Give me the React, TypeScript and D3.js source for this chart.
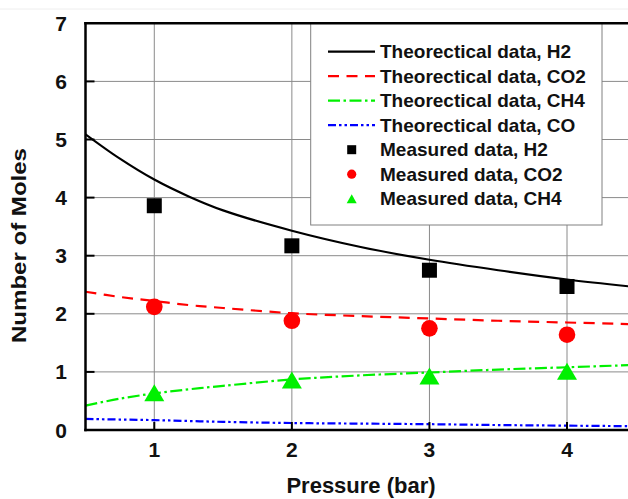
import React from "react";
import * as d3 from "d3";

const theoX = [0.5, 0.75, 1, 1.25, 1.5, 2, 2.5, 3, 3.5, 4, 4.5];
const theoH2 = [5.09, 4.67, 4.31, 4.02, 3.78, 3.43, 3.15, 2.93, 2.75, 2.59, 2.46];
const theoCO2 = [2.38, 2.29, 2.22, 2.15, 2.1, 2.01, 1.96, 1.92, 1.88, 1.85, 1.82];
const theoCH4 = [0.42, 0.54, 0.63, 0.7, 0.76, 0.87, 0.94, 0.99, 1.04, 1.08, 1.12];
const theoCO = [0.19, 0.18, 0.17, 0.155, 0.14, 0.12, 0.11, 0.1, 0.085, 0.075, 0.065];

const measX = [1, 2, 3, 4];
const measH2 = [3.86, 3.17, 2.75, 2.47];
const measCO2 = [2.12, 1.88, 1.75, 1.64];
const measCH4 = [0.64, 0.86, 0.93, 1.01];

const xTicks = [1, 2, 3, 4];
const yTicks = [0, 1, 2, 3, 4, 5, 6, 7];

const legendLabels = [
  "Theorectical data, H2",
  "Theorectical data, CO2",
  "Theorectical data, CH4",
  "Theorectical data, CO",
  "Measured data, H2",
  "Measured data, CO2",
  "Measured data, CH4",
];

const FONT = "'Liberation Sans', Arial, Helvetica, sans-serif";

export default function App() {
  const W = 628, H = 499;
  const x = d3.scaleLinear().domain([0.5, 4.5]).range([85.5, 635.8]);
  const y = d3.scaleLinear().domain([0, 7]).range([430, 23.3]);
  const line = d3
    .line<number>()
    .x((_, i) => x(theoX[i]))
    .y((d) => y(d))
    .curve(d3.curveCatmullRom.alpha(0.5));

  const series = [
    { data: theoH2, color: "#000000", dash: "none" },
    { data: theoCO2, color: "#ff0000", dash: "11 7.5" },
    { data: theoCH4, color: "#00f000", dash: "12 3.5 2.5 3.5" },
    { data: theoCO, color: "#0000ff", dash: "8 3 2.5 3 2.5 3" },
  ];

  const left = x(0.5), bottom = y(0), top = y(7);
  const tri = (cx: number, cy: number, w: number, h: number) =>
    `M${cx},${cy - h / 2}L${cx + w / 2},${cy + h / 2}L${cx - w / 2},${cy + h / 2}Z`;

  const legX0 = 310.7, legX1 = 602, legY1 = 225;
  const rowY = (i: number) => 51.7 + i * 24.5;

  return (
    <svg width={W} height={H} style={{ position: "absolute", left: 0, top: 0, background: "#fff" }} fontFamily={FONT}>
      <defs>
        <clipPath id="plot">
          <rect x={left} y={top} width={W - left} height={bottom - top} />
        </clipPath>
      </defs>
      <line x1={0} x2={W} y1={9} y2={9} stroke="#eeeeee" strokeWidth={1} />
      {/* grid */}
      <g stroke="#8a8a8a" strokeWidth={1}>
        {xTicks.map((t) => (
          <line key={"gx" + t} x1={x(t)} x2={x(t)} y1={top} y2={bottom} />
        ))}
        {yTicks.slice(1, -1).map((t) => (
          <line key={"gy" + t} x1={left} x2={W} y1={y(t)} y2={y(t)} />
        ))}
      </g>
      {/* theoretical lines */}
      <g clipPath="url(#plot)" fill="none">
        {series.map((s, i) => (
          <path key={i} d={line(s.data) || ""} stroke={s.color} strokeWidth={2.2} strokeDasharray={s.dash} />
        ))}
      </g>
      {/* measured */}
      <g>
        {measX.map((m, i) => (
          <rect key={"s" + i} x={x(m) - 7.5} y={y(measH2[i]) - 7.5} width={15} height={15} fill="#000" />
        ))}
        {measX.map((m, i) => (
          <circle key={"c" + i} cx={x(m)} cy={y(measCO2[i])} r={8.3} fill="#ff0000" />
        ))}
        {measX.map((m, i) => (
          <path key={"t" + i} d={tri(x(m), y(measCH4[i]), 20, 17)} fill="#00f000" />
        ))}
      </g>
      {/* legend */}
      <rect x={legX0} y={top} width={legX1 - legX0} height={legY1 - top} fill="#fff" stroke="#808080" strokeWidth={1} />
      {legendLabels.map((lab, i) => {
        const cy = rowY(i);
        let sym: React.ReactNode = null;
        if (i < 4) {
          const s = series[i];
          sym = <line x1={328} x2={375} y1={cy} y2={cy} stroke={s.color} strokeWidth={2.2} strokeDasharray={s.dash} />;
        } else if (i === 4) {
          sym = <rect x={351.7 - 4.5} y={cy - 4.5} width={9} height={9} fill="#000" />;
        } else if (i === 5) {
          sym = <circle cx={351.7} cy={cy} r={4.6} fill="#ff0000" />;
        } else {
          sym = <path d={tri(351.7, cy, 10, 9)} fill="#00f000" />;
        }
        return (
          <g key={"l" + i}>
            {sym}
            <text x={380} y={cy} dominantBaseline="central" fontSize={19} fontWeight="bold" fill="#111">
              {lab}
            </text>
          </g>
        );
      })}
      {/* axes */}
      <g stroke="#000" strokeWidth={2.5}>
        <line x1={left} x2={left} y1={top - 1.25} y2={bottom + 1.25} />
        <line x1={left - 1.25} x2={W} y1={bottom} y2={bottom} />
        <line x1={left - 1.25} x2={W} y1={top} y2={top} />
      </g>
      <g stroke="#000" strokeWidth={2}>
        {yTicks.slice(1, -1).map((t) => (
          <line key={"ty" + t} x1={left} x2={left + 9} y1={y(t)} y2={y(t)} />
        ))}
        {xTicks.map((t) => (
          <line key={"tx" + t} x1={x(t)} x2={x(t)} y1={bottom} y2={bottom - 8} />
        ))}
      </g>
      <g fontSize={21} fontWeight="bold" fill="#111">
        {yTicks.map((t) => (
          <text key={"ly" + t} x={67} y={y(t)} textAnchor="end" dominantBaseline="central">
            {t}
          </text>
        ))}
        {xTicks.map((t) => (
          <text key={"lx" + t} x={x(t)} y={457} textAnchor="middle">
            {t}
          </text>
        ))}
      </g>
      <text x={361} y={493} textAnchor="middle" fontSize={22} fontWeight="bold" fill="#111">
        Pressure (bar)
      </text>
      <text
        transform={`translate(26,245.5) rotate(-90)`}
        textAnchor="middle"
        fontSize={20}
        fontWeight="bold"
        fill="#111"
        textLength={195}
        lengthAdjust="spacingAndGlyphs"
      >
        Number of Moles
      </text>
    </svg>
  );
}
